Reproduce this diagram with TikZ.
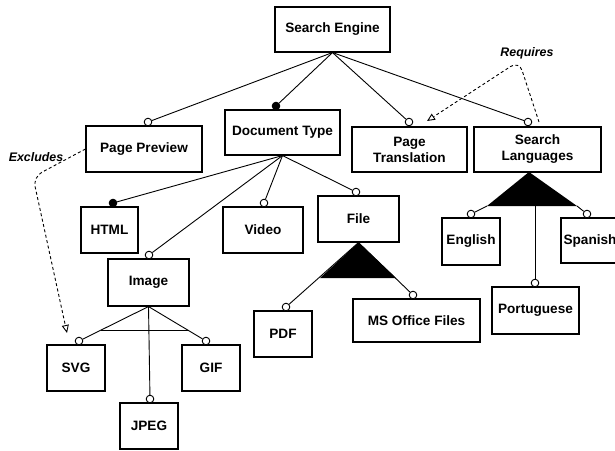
\documentclass[tikz,border=0pt]{standalone}
\usepackage{fontspec}
\setmainfont{Liberation Sans}
\usetikzlibrary{arrows.meta,calc}
\begin{document}
\begin{tikzpicture}[x=1pt,y=-1pt,
 feat/.style={draw,line width=1.1pt,fill=white,inner sep=0pt,align=center,font=\bfseries\fontsize{13.6}{16}\selectfont},
 opt/.style={circle,draw,line width=0.9pt,fill=white,minimum size=7.6pt,inner sep=0pt},
 mand/.style={opt,fill=black},
 link/.style={line width=0.9pt},
 cst/.style={line width=0.9pt,dash pattern=on 3pt off 2.5pt,rounded corners=10pt,-{Triangle[open,length=8pt,width=7pt]}},
 lbl/.style={font=\bfseries\itshape\fontsize{12.4}{14}\selectfont}]
\useasboundingbox (0,0) rectangle (615,450);

% features
\node[feat,minimum width=115pt,minimum height=45pt] (se) at (332.5,29.5) {Search Engine};
\node[feat,minimum width=116pt,minimum height=46pt] (pp) at (144,149) {Page Preview};
\node[feat,minimum width=115pt,minimum height=45pt] (dt) at (282.5,132.5) {Document Type};
\node[feat,minimum width=115pt,minimum height=45pt] (pt) at (409.5,149.5) {Page\\Translation};
\node[feat,minimum width=127pt,minimum height=45pt] (sl) at (537.5,149.5) {Search\\Languages};
\node[feat,minimum width=57pt,minimum height=46pt] (html) at (109.5,230) {HTML};
\node[feat,minimum width=80pt,minimum height=46pt] (video) at (263,230) {Video};
\node[feat,minimum width=81pt,minimum height=46pt] (file) at (358.5,219) {File};
\node[feat,minimum width=81pt,minimum height=47pt] (image) at (148.5,282.5) {Image};
\node[feat,minimum width=58pt,minimum height=46pt] (svg) at (76,368) {SVG};
\node[feat,minimum width=58pt,minimum height=46pt] (gif) at (211,368) {GIF};
\node[feat,minimum width=58pt,minimum height=46pt] (jpeg) at (149,426) {JPEG};
\node[feat,minimum width=58pt,minimum height=46pt] (pdf) at (283,334) {PDF};
\node[feat,minimum width=127pt,minimum height=43pt] (mso) at (416.5,320.5) {MS Office Files};
\node[feat,minimum width=58pt,minimum height=47pt] (en) at (471,241.5) {English};
\node[feat,minimum width=58pt,minimum height=45pt] (es) at (590,240.5) {Spanish};
\node[feat,minimum width=87pt,minimum height=47pt] (po) at (535.5,310.5) {Portuguese};

% relation ends
\node[opt]  (c-pp)    at (148,122) {};
\node[mand] (c-dt)    at (276,106) {};
\node[opt]  (c-pt)    at (409,122) {};
\node[opt]  (c-sl)    at (528,122) {};
\node[mand] (c-html)  at (113,203) {};
\node[opt]  (c-video) at (264,203) {};
\node[opt]  (c-file)  at (356,192) {};
\node[opt]  (c-image) at (149,255) {};
\node[opt]  (c-svg)   at (79,341) {};
\node[opt]  (c-gif)   at (206,341) {};
\node[opt]  (c-jpeg)  at (150,399) {};
\node[opt]  (c-pdf)   at (286,307) {};
\node[opt]  (c-mso)   at (413,295) {};
\node[opt]  (c-en)    at (471,214) {};
\node[opt]  (c-es)    at (587,214) {};
\node[opt]  (c-po)    at (535,283) {};

% tree links
\draw[link] (se.south) -- (c-pp);
\draw[link] (se.south) -- (c-dt);
\draw[link] (se.south) -- (c-pt);
\draw[link] (se.south) -- (c-sl);
\draw[link] (dt.south) -- (c-html);
\draw[link] (dt.south) -- (c-video);
\draw[link] (dt.south) -- (c-file);
\draw[link] (dt.south) -- (c-image);
\draw[link] (image.south) -- (c-svg);
\draw[link] (image.south) -- (c-jpeg);
\draw[link] (image.south) -- (c-gif);
\draw[link] ($(image.south)!0.68!(c-svg)$) -- ($(image.south)!0.68!(c-gif)$);

% File alternative
\draw[link] (file.south) -- (c-pdf);
\draw[link] (file.south) -- (c-mso);
\coordinate (fL) at (320,278);
\coordinate (fR) at (396,278);
\fill[black] (file.south) -- (fL) -- (fR) -- cycle;

% Search Languages or-group
\coordinate (sA) at (529,172);
\coordinate (sL) at (487,206);
\coordinate (sR) at (577,206);
\coordinate (sM) at (535,206);
\fill[black] (sA) -- (sL) -- (sR) -- cycle;
\draw[link] (sL) -- (c-en);
\draw[link] (sR) -- (c-es);
\draw[link] (sM) -- (c-po);

% constraints
\node[lbl] (exl) at (36,157) {Excludes};
\coordinate (exA) at (33,177);
\coordinate (exE) at (67,333);
\draw[cst] (pp.west) -- (exA) -- (exE);

\node[lbl] (rql) at (527,53) {Requires};
\coordinate (rqS) at (539,122);
\coordinate (rqA) at (519,61);
\coordinate (rqE) at (427,121);
\draw[cst] (rqS) -- (rqA) -- (rqE);
\end{tikzpicture}
\end{document}
